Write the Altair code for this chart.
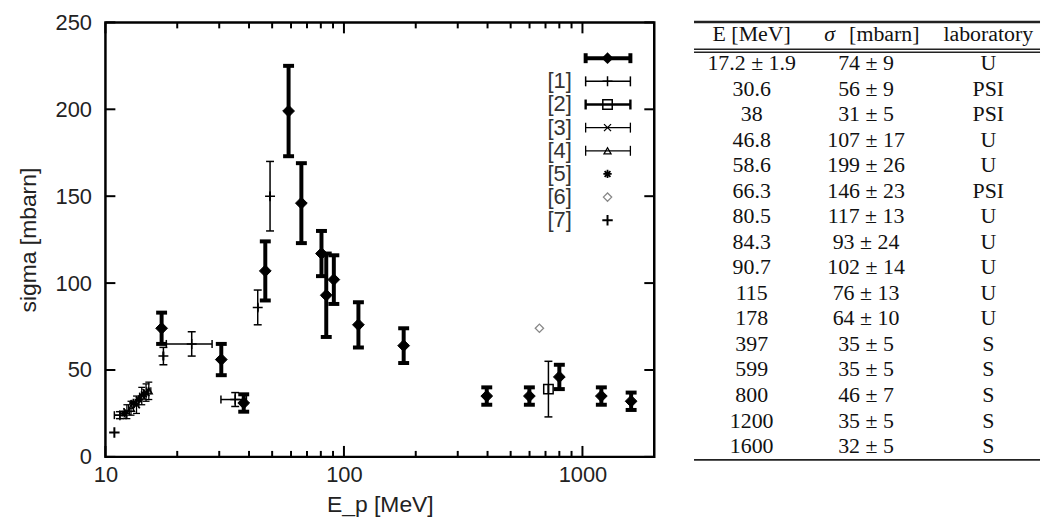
import altair as alt
import pandas as pd

# ---------------- data ----------------
# this work (filled diamonds, thick error bars) -- also the table
E_main = [17.2, 30.6, 38, 46.8, 58.6, 66.3, 80.5, 84.3, 90.7, 115, 178, 397, 599, 800, 1200, 1600]
E_main_err = [1.9, None, None, None, None, None, None, None, None, None, None, None, None, None, None, None]
sig_main = [74, 56, 31, 107, 199, 146, 117, 93, 102, 76, 64, 35, 35, 46, 35, 32]
sig_main_err = [9, 9, 5, 17, 26, 23, 13, 24, 14, 13, 10, 5, 5, 7, 5, 5]
lab_main = ["U", "PSI", "PSI", "U", "U", "PSI", "U", "U", "U", "U", "U", "S", "S", "S", "S", "S"]

# reference [1]
E1 = [11.5, 17.5, 23, 35, 43.5, 49]
E1_lo = [10.9, 17.5, 18, 30.5, 43.5, 49]
E1_hi = [12.2, 17.5, 28, 39, 43.5, 49]
s1 = [24, 58, 65, 33, 86, 150]
s1_err = [2, 5, 7, 4, 10, 20]
# reference [2]
E2 = [720]
s2 = [39]
s2_err = [16]
# reference [3]
E3 = [12.3, 13.5, 14.8]
s3 = [26, 30, 37]
s3_err = [4, 5, 5]
# reference [4]
E4 = [12.8, 14.2, 15.2]
s4 = [28, 35, 38]
s4_err = [4, 5, 5]
# reference [5]
E5 = [12.0, 13.1, 13.8, 14.5]
s5 = [25, 31, 33, 36]
# reference [6]
E6 = [660]
s6 = [74]
# reference [7]
E7 = [10.9]
s7 = [14]

legend_labels = ["", "[1]", "[2]", "[3]", "[4]", "[5]", "[6]", "[7]"]

x_major = [10, 100, 1000]
x_minor = [20, 30, 40, 50, 60, 70, 80, 90, 200, 300, 400, 500, 600, 700, 800, 900]
y_major = [0, 50, 100, 150, 200, 250]

table_header = ["E [MeV]", "[mbarn]", "laboratory"]

# ---------------- styles ----------------
W, H = 552, 437
SANS = "Liberation Sans"
SERIF = "Liberation Serif"
TXT = "#222222"
PLUS = "M-1,0L1,0M0,-1L0,1"
XSHAPE = "M-1,-1L1,1M-1,1L1,-1"
STAR = "M-1,0L1,0M0,-1L0,1M-0.7,-0.7L0.7,0.7M-0.7,0.7L0.7,-0.7"
XT = "E_p [MeV]"
YT = "sigma [mbarn]"

xscale = alt.Scale(type="log", domain=[10, 2000], nice=False)
yscale = alt.Scale(domain=[0, 250], nice=False, zero=False)

x_axis = alt.Axis(values=x_major, format="d", tickSize=0, domain=False, grid=False,
                  labelFlush=False, labelPadding=8, labelFont=SANS, labelFontSize=22,
                  labelColor=TXT, titleFont=SANS, titleFontSize=23,
                  titleFontWeight="normal", titleColor=TXT, titlePadding=8)
y_axis = alt.Axis(values=y_major, tickSize=0, domain=False, grid=False,
                  labelFlush=False, labelPadding=14, labelFont=SANS, labelFontSize=22,
                  labelColor=TXT, titleFont=SANS, titleFontSize=23,
                  titleFontWeight="normal", titleColor=TXT, titlePadding=15)


def X(f):
    return alt.X(f, scale=xscale, axis=x_axis, title=XT)


def Y(f):
    return alt.Y(f, scale=yscale, axis=y_axis, title=YT)


def series_df(E, s, err=None, xlo=None, xhi=None):
    d = pd.DataFrame({"E": E, "s": s})
    if err is not None:
        d["lo"] = [a - b for a, b in zip(s, err)]
        d["hi"] = [a + b for a, b in zip(s, err)]
    if xlo is not None:
        d["xlo"] = xlo
        d["xhi"] = xhi
    return d


series = [
    dict(df=series_df(E_main, sig_main, sig_main_err), shape="diamond", filled=True, size=140,
         color="black", sw=4, cap=11, msw=1, leg=0, legbar=True),
    dict(df=series_df(E1, s1, s1_err, E1_lo, E1_hi), shape=PLUS, filled=False, size=100,
         color="black", sw=1.5, cap=8, msw=1.5, leg=1, legbar=True),
    dict(df=series_df(E2, s2, s2_err, E2, E2), shape="square", filled=False, size=90,
         color="black", sw=1.5, cap=8, msw=1.5, leg=2, legbar=True, legsw=2.4),
    dict(df=series_df(E3, s3, s3_err, [e - 0.3 for e in E3], [e + 0.3 for e in E3]), shape=XSHAPE,
         filled=False, size=50, color="black", sw=1.3, cap=7, msw=1.3, leg=3, legbar=True),
    dict(df=series_df(E4, s4, s4_err, [e - 0.3 for e in E4], [e + 0.3 for e in E4]), shape="triangle-up",
         filled=False, size=50, color="black", sw=1.3, cap=7, msw=1.3, leg=4, legbar=True),
    dict(df=series_df(E5, s5), shape=STAR, filled=False, size=70, color="black", sw=1.5, cap=0,
         msw=1.8, leg=5, legbar=False),
    dict(df=series_df(E6, s6), shape="diamond", filled=False, size=70, color="#888888", sw=1.2,
         cap=0, msw=1.3, leg=6, legbar=False),
    dict(df=series_df(E7, s7), shape=PLUS, filled=False, size=110, color="black", sw=2, cap=0,
         msw=2, leg=7, legbar=False),
]

# ---------------- plot layers ----------------
layers = []
for sr in series:
    d = sr["df"]
    base = alt.Chart(d)
    if "lo" in d:
        layers.append(base.mark_rule(strokeWidth=sr["sw"], color=sr["color"]).encode(
            x=X("E:Q"), y=Y("lo:Q"), y2="hi:Q"))
        for f in ["lo", "hi"]:
            layers.append(base.mark_tick(orient="horizontal", size=sr["cap"], thickness=sr["sw"],
                                         color=sr["color"], opacity=1).encode(
                x=X("E:Q"), y=Y(f + ":Q")))
    if "xlo" in d:
        layers.append(base.mark_rule(strokeWidth=sr["sw"], color=sr["color"]).encode(
            x=X("xlo:Q"), x2="xhi:Q", y=Y("s:Q")))
        for f in ["xlo", "xhi"]:
            layers.append(base.mark_tick(orient="vertical", size=sr["cap"], thickness=sr["sw"],
                                         color=sr["color"], opacity=1).encode(
                x=X(f + ":Q"), y=Y("s:Q")))
    pm = dict(shape=sr["shape"], filled=sr["filled"], size=sr["size"], color=sr["color"],
              opacity=1, strokeWidth=sr["msw"])
    if sr["filled"]:
        pm["stroke"] = sr["color"]
    layers.append(base.mark_point(**pm).encode(x=X("E:Q"), y=Y("s:Q")))

# inward tick marks on all four sides
yt = pd.DataFrame({"v": y_major})
for L, vals in [(11, x_major), (6, x_minor)]:
    dfv = pd.DataFrame({"v": vals})
    layers.append(alt.Chart(dfv).mark_tick(orient="vertical", size=L, thickness=2, color="black",
                                           yOffset=-L / 2, opacity=1).encode(
        x=X("v:Q"), y=alt.value(H)))
    layers.append(alt.Chart(dfv).mark_tick(orient="vertical", size=L, thickness=2, color="black",
                                           yOffset=L / 2, opacity=1).encode(
        x=X("v:Q"), y=alt.value(0)))
layers.append(alt.Chart(yt).mark_tick(orient="horizontal", size=10, thickness=2, color="black",
                                      xOffset=5, opacity=1).encode(
    y=Y("v:Q"), x=alt.value(0)))
layers.append(alt.Chart(yt).mark_tick(orient="horizontal", size=10, thickness=2, color="black",
                                      xOffset=-5, opacity=1).encode(
    y=Y("v:Q"), x=alt.value(W)))

plot = alt.layer(*layers)

# ---------------- legend (inside the plot, top right) ----------------
lscale = alt.Scale(domain=[0, 7], range=[36, 199], nice=False, zero=False)
LX0, LX1, LXM, LXT = 483, 528, 505, 469
leg_layers = []
for sr in series:
    ld = pd.DataFrame({"li": [sr["leg"]], "label": [legend_labels[sr["leg"]]]})
    lb = alt.Chart(ld)
    ly = alt.Y("li:Q", scale=lscale, axis=None)
    if sr["legbar"]:
        sw = sr.get("legsw", sr["sw"])
        leg_layers.append(lb.mark_rule(strokeWidth=sw, color=sr["color"]).encode(
            x=alt.value(LX0), x2=alt.value(LX1), y=ly))
        for xv in (LX0, LX1):
            leg_layers.append(lb.mark_tick(orient="vertical", size=10, thickness=sw,
                                           color=sr["color"], opacity=1).encode(
                x=alt.value(xv), y=ly))
    pm = dict(shape=sr["shape"], filled=sr["filled"], size=sr["size"], color=sr["color"],
              opacity=1, strokeWidth=sr["msw"])
    leg_layers.append(lb.mark_point(**pm).encode(x=alt.value(LXM), y=ly))
    leg_layers.append(lb.mark_text(align="right", baseline="middle", font=SANS, fontSize=22,
                                   color="#333333").encode(x=alt.value(LXT), y=ly, text="label:N"))
legend = alt.layer(*leg_layers)

left = alt.layer(plot, legend).resolve_scale(y="independent").properties(
    width=W, height=H, view=alt.ViewBackground(stroke="black", strokeWidth=2.5))

# ---------------- table ----------------
TW, TH = 348, 440
TFS = 22
E_txt = [("%g" % e) + ((" ± %g" % ee) if ee else "") for e, ee in zip(E_main, E_main_err)]
S_txt = ["%d ± %d" % (s, se) for s, se in zip(sig_main, sig_main_err)]
tdf = pd.DataFrame({"row": list(range(len(E_main))), "E": E_txt, "S": S_txt, "L": lab_main})
tscale = alt.Scale(domain=[-1.597, 15.54], reverse=True, nice=False, zero=False)
ty = alt.Y("row:Q", scale=tscale, axis=None)
COLX = [58, 173, 296]
tl = []
for cx, f in zip(COLX, ["E", "S", "L"]):
    tl.append(alt.Chart(tdf).mark_text(font=SERIF, fontSize=TFS, color="#111111", baseline="middle",
                                       align="center").encode(x=alt.value(cx), y=ty, text=f + ":N"))
hdf = pd.DataFrame({"row": [-1.13], "a": [table_header[0]], "b": [table_header[1]],
                    "c": [table_header[2]], "sig": ["σ"]})
hb = alt.Chart(hdf)
tl.append(hb.mark_text(font=SERIF, fontSize=TFS, color="#111111", baseline="middle").encode(
    x=alt.value(COLX[0]), y=ty, text="a:N"))
tl.append(hb.mark_text(font=SERIF, fontSize=TFS, color="#111111", baseline="middle", align="left",
                       fontStyle="italic").encode(x=alt.value(131), y=ty, text="sig:N"))
tl.append(hb.mark_text(font=SERIF, fontSize=TFS, color="#111111", baseline="middle", align="left").encode(
    x=alt.value(156), y=ty, text="b:N"))
tl.append(hb.mark_text(font=SERIF, fontSize=TFS, color="#111111", baseline="middle").encode(
    x=alt.value(COLX[2]), y=ty, text="c:N"))
rules = pd.DataFrame({"k": [0]})
for yy, sw in [(-0.5, 2.5), (27, 1.6), (30, 1.6), (TH, 1.6)]:
    tl.append(alt.Chart(rules).mark_rule(color="#222222", strokeWidth=sw).encode(
        x=alt.value(0), x2=alt.value(TW), y=alt.value(yy)))
table = alt.layer(*tl).properties(width=TW, height=TH, view=alt.ViewBackground(stroke=None))

chart = alt.hconcat(left, table, spacing=40, bounds="flush").properties(
    padding={"left": 8, "top": 0, "right": 0, "bottom": 0}
).configure_view(stroke=None)

chart.save("out.html", embed_options={"renderer": "svg", "actions": False})
